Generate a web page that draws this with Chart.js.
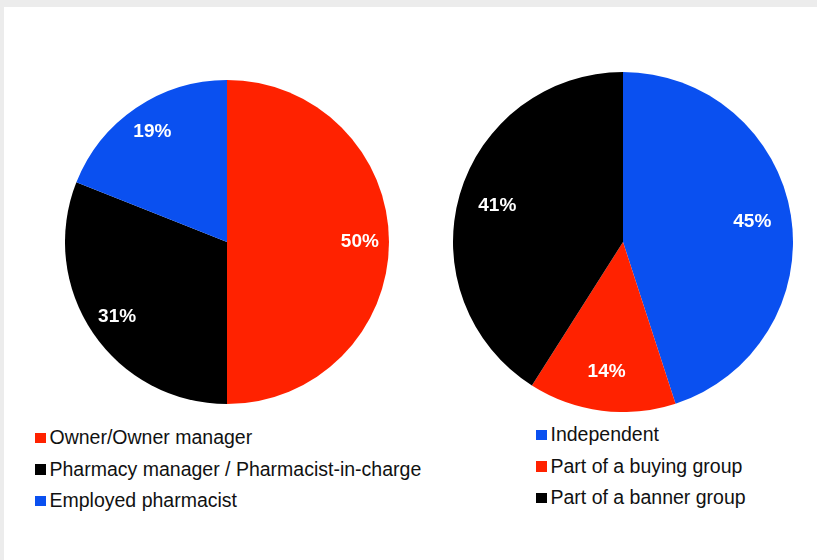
<!DOCTYPE html>
<html>
<head>
<meta charset="utf-8">
<script src="https://cdn.jsdelivr.net/npm/chart.js@4.4.0/dist/chart.umd.min.js"></script>
<style>
    body {
        margin: 0;
        width: 817px;
        height: 560px;
        background: #ececec;
        overflow: hidden;
        font-family: "Liberation Sans", Arial, sans-serif;
    }
    #painel {
        position: absolute;
        left: 4px;
        top: 7px;
        right: 0;
        bottom: 0;
        background: #ffffff;
    }
    canvas {
        position: absolute;
    }
    #graficoCargo { left: 65px; top: 80px; }
    #graficoTipo { left: 453px; top: 72px; }
    .legenda {
        position: absolute;
        font-size: 19.5px;
        color: #111;
    }
    .legenda div {
        display: flex;
        align-items: center;
        height: 31.5px;
        line-height: 31.5px;
        white-space: nowrap;
    }
    .legenda span.caixa {
        display: inline-block;
        width: 10.5px;
        height: 10.5px;
        margin-right: 4px;
    }
    #legendaCargo { left: 35px; top: 422px; }
    #legendaTipo { left: 536px; top: 419px; }
</style>
</head>
<body>
<div id="painel"></div>
<canvas id="graficoCargo" width="324" height="324"></canvas>
<canvas id="graficoTipo" width="340" height="340"></canvas>
<div class="legenda" id="legendaCargo"></div>
<div class="legenda" id="legendaTipo"></div>

<script>
// role of the respondent
var cargos = ['Owner/Owner manager', 'Pharmacy manager / Pharmacist-in-charge', 'Employed pharmacist']
var cargosPct = [50, 31, 19]
var cargosCores = ['#ff2200', '#000000', '#0a50f0']

// type of pharmacy
var tipos = ['Independent', 'Part of a buying group', 'Part of a banner group']
var tiposPct = [45, 14, 41]
var tiposCores = ['#0a50f0', '#ff2200', '#000000']

// writes the % inside each slice
var rotulosFatias = {
    id: 'rotulosFatias',
    afterDatasetsDraw: function (chart, args, opts) {
        var ctx = chart.ctx
        var meta = chart.getDatasetMeta(0)
        var valores = chart.data.datasets[0].data
        ctx.save()
        ctx.fillStyle = '#ffffff'
        ctx.font = 'bold 19px "Liberation Sans", Arial, sans-serif'
        ctx.textAlign = 'center'
        ctx.textBaseline = 'middle'
        for (var i = 0; i < meta.data.length; i++) {
            var arco = meta.data[i].getProps(['x', 'y', 'startAngle', 'endAngle', 'outerRadius'], true)
            var meio = (arco.startAngle + arco.endAngle) / 2
            var r = arco.outerRadius * opts.fator
            ctx.fillText(valores[i] + '%', arco.x + Math.cos(meio) * r, arco.y + Math.sin(meio) * r)
        }
        ctx.restore()
    }
}

function plotarPizza(idCanvas, labels, valores, cores, fator) {
    return new Chart(document.getElementById(idCanvas), {
        type: 'pie',
        data: {
            labels: labels,
            datasets: [{
                data: valores,
                backgroundColor: cores,
                borderWidth: 0
            }]
        },
        options: {
            responsive: false,
            animation: false,
            layout: { padding: 0 },
            plugins: {
                legend: { display: false },
                tooltip: { enabled: false },
                rotulosFatias: { fator: fator }
            }
        },
        plugins: [rotulosFatias]
    })
}

function montarLegenda(idDiv, chart) {
    var div = document.getElementById(idDiv)
    var itens = chart.data.labels
    var cores = chart.data.datasets[0].backgroundColor
    for (var i = 0; i < itens.length; i++) {
        div.innerHTML += `<div><span class="caixa" style="background:${cores[i]}"></span>${itens[i]}</div>`
    }
}

var graficoCargo = plotarPizza('graficoCargo', cargos, cargosPct, cargosCores, 0.82)
var graficoTipo = plotarPizza('graficoTipo', tipos, tiposPct, tiposCores, 0.77)

montarLegenda('legendaCargo', graficoCargo)
montarLegenda('legendaTipo', graficoTipo)
</script>
</body>
</html>
